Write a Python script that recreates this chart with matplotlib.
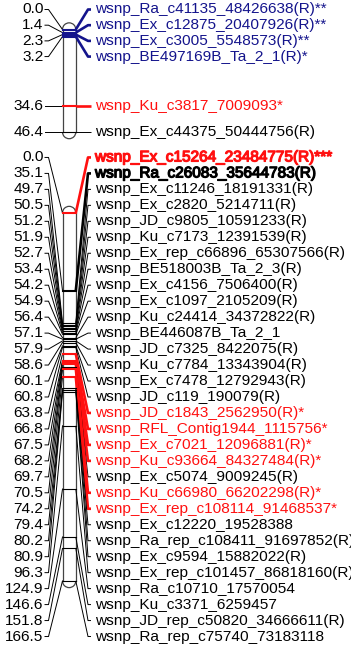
import matplotlib.pyplot as plt
import matplotlib.patheffects as pe
from matplotlib.patches import Arc

plt.rcParams['font.family'] = ['Liberation Sans', 'DejaVu Sans']

# ---- marker data (cM, name, class) ----
chr1_pos = [0.0, 1.4, 2.3, 3.2, 34.6, 46.4]
chr1_names = ['wsnp_Ra_c41135_48426638(R)**', 'wsnp_Ex_c12875_20407926(R)**',
              'wsnp_Ex_c3005_5548573(R)**', 'wsnp_BE497169B_Ta_2_1(R)*',
              'wsnp_Ku_c3817_7009093*', 'wsnp_Ex_c44375_50444756(R)']
chr1_class = ['q1', 'q1', 'q1', 'q1', 'q2', '']

chr2_pos = [0.0, 35.1, 49.7, 50.5, 51.2, 51.9, 52.7, 53.4, 54.2, 54.9, 56.4,
            57.1, 57.9, 58.6, 60.1, 60.8, 63.8, 66.8, 67.5, 68.2, 69.7, 70.5,
            74.2, 79.4, 80.2, 80.9, 96.3, 124.9, 146.6, 151.8, 166.5]
chr2_names = ['wsnp_Ex_c15264_23484775(R)***', 'wsnp_Ra_c26083_35644783(R)',
              'wsnp_Ex_c11246_18191331(R)', 'wsnp_Ex_c2820_5214711(R)',
              'wsnp_JD_c9805_10591233(R)', 'wsnp_Ku_c7173_12391539(R)',
              'wsnp_Ex_rep_c66896_65307566(R)', 'wsnp_BE518003B_Ta_2_3(R)',
              'wsnp_Ex_c4156_7506400(R)', 'wsnp_Ex_c1097_2105209(R)',
              'wsnp_Ku_c24414_34372822(R)', 'wsnp_BE446087B_Ta_2_1',
              'wsnp_JD_c7325_8422075(R)', 'wsnp_Ku_c7784_13343904(R)',
              'wsnp_Ex_c7478_12792943(R)', 'wsnp_JD_c119_190079(R)',
              'wsnp_JD_c1843_2562950(R)*', 'wsnp_RFL_Contig1944_1115756*',
              'wsnp_Ex_c7021_12096881(R)*', 'wsnp_Ku_c93664_84327484(R)*',
              'wsnp_Ex_c5074_9009245(R)', 'wsnp_Ku_c66980_66202298(R)*',
              'wsnp_Ex_rep_c108114_91468537*', 'wsnp_Ex_c12220_19528388',
              'wsnp_Ra_rep_c108411_91697852(R)', 'wsnp_Ex_c9594_15882022(R)',
              'wsnp_Ex_rep_c101457_86818160(R)', 'wsnp_Ra_c10710_17570054',
              'wsnp_Ku_c3371_6259457', 'wsnp_JD_rep_c50820_34666611(R)',
              'wsnp_Ra_rep_c75740_73183118']
chr2_class = ['q3', 'b'] + [''] * 14 + ['q2', 'q2', 'q2', 'q2', '', 'q2', 'q2'] + [''] * 8

# styles per class: colour, bold text, thick lines
STYLE = {'': ('black', False, False),
         'b': ('black', True, True),
         'q1': ('#14148c', False, True),
         'q2': ('#ff1010', False, True),
         'q3': ('#ff1010', True, True)}

W, H = 351, 651
K = 2.21          # pixels per cM
XL, XR = 62.5, 75.8
FS = 11.05

fig = plt.figure(figsize=(W / 100, H / 100), dpi=100)


def make_ax(top_px, bot_px, zero_px):
    ax = fig.add_axes([0, 1 - bot_px / H, 1, (bot_px - top_px) / H])
    ax.set_xlim(0, W)
    ax.set_ylim((bot_px - zero_px) / K, (top_px - zero_px) / K)
    ax.axis('off')
    return ax


def spread(pos, gap):
    # merge overlapping label groups, centre each group on its span
    groups = [[p] for p in pos]
    while True:
        lab = []
        for g in groups:
            c = (g[0] + g[-1]) / 2
            n = len(g)
            lab.append([c + (i - (n - 1) / 2) * gap for i in range(n)])
        merged = False
        for i in range(len(groups) - 1):
            if lab[i + 1][0] - lab[i][-1] < gap - 1e-9:
                groups[i] = groups[i] + groups[i + 1]
                del groups[i + 1]
                merged = True
                break
        if not merged:
            return [y for l in lab for y in l]


def draw_chrom(ax, pos, names, cls, gap):
    lab = spread(pos, gap)
    top, bot = min(pos), max(pos)
    edge = '#444444'
    ax.plot([XL, XL], [top, bot], color=edge, lw=0.9)
    ax.plot([XR, XR], [top, bot], color=edge, lw=0.9)
    ry = (XR - XL) / 2 / K
    ax.add_patch(Arc(((XL + XR) / 2, top), XR - XL, 2 * ry, theta1=180, theta2=360,
                     color=edge, lw=0.9))
    ax.add_patch(Arc(((XL + XR) / 2, bot), XR - XL, 2 * ry, theta1=0, theta2=180,
                     color=edge, lw=0.9))
    for p, y, nm, c in zip(pos, lab, names, cls):
        col, bold, thick = STYLE[c]
        ax.plot([XL, XR], [p, p], color=col, lw=1.5 if thick else 0.8, zorder=3)
        ax.plot([45, 48.5, XL], [y, y, p], color='black', lw=0.7)
        ax.plot([XR, 88, 91], [p, y, y], color=col, lw=1.9 if thick else 0.7,
                solid_capstyle='butt')
        ax.text(43.5, y, f'{p:.1f}', ha='right', va='center', fontsize=FS)
        t = ax.text(95, y, nm, ha='left', va='center', fontsize=FS, color=col)
        if bold:
            # the original uses a thickened regular face
            t.set_path_effects([pe.withStroke(linewidth=0.9, foreground=col)])


ax1 = make_ax(0, 145, 29.5)
draw_chrom(ax1, chr1_pos, chr1_names, chr1_class, 7.1)

ax2 = make_ax(145, 651, 213)
draw_chrom(ax2, chr2_pos, chr2_names, chr2_class, 7.226)

fig.savefig('out.png', dpi=100)
